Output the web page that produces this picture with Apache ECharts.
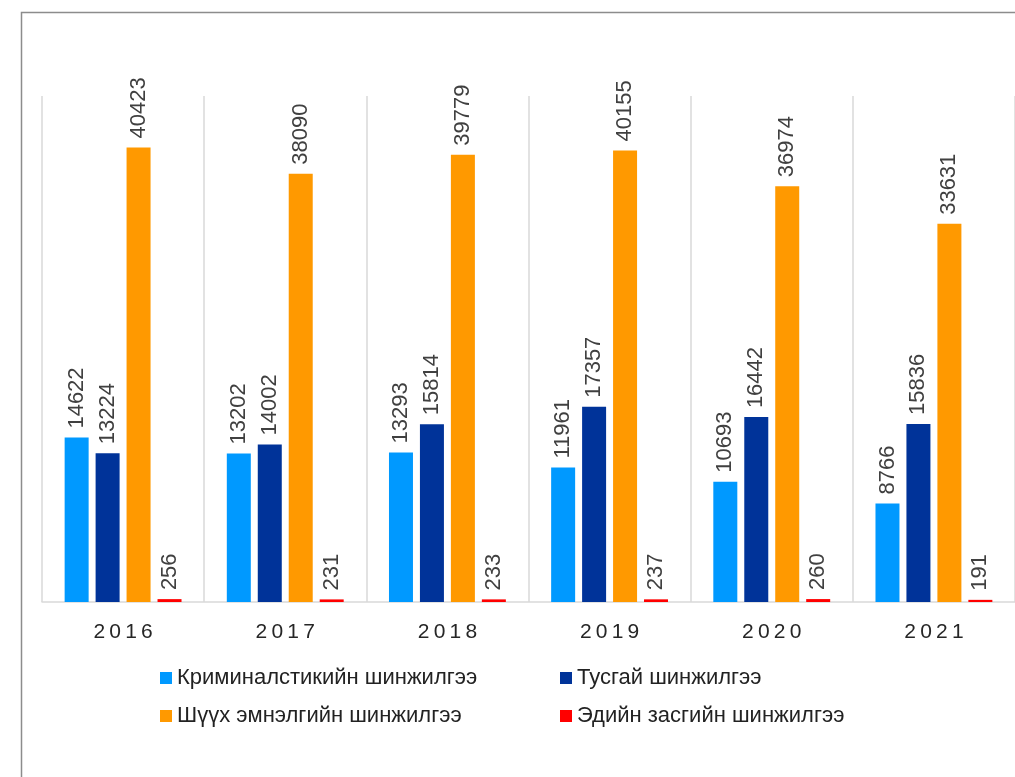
<!DOCTYPE html>
<html>
<head>
<meta charset="utf-8">
<script src="https://cdn.jsdelivr.net/npm/echarts@6/dist/echarts.min.js"></script>
<style>
  html, body { margin: 0; padding: 0; background: #fff; }
  #chart { width: 1015px; height: 777px; }
</style>
</head>
<body>
<div id="chart"></div>
<script>
// Years on the x axis
const years = ['2016', '2017', '2018', '2019', '2020', '2021'];

// Series names (legend)
const seriesNames = [
    'Криминалстикийн шинжилгээ',
    'Тусгай шинжилгээ',
    'Шүүх эмнэлгийн шинжилгээ',
    'Эдийн засгийн шинжилгээ'
];

// Values
const kriminalistik = [14622, 13202, 13293, 11961, 10693, 8766];
const tusgai = [13224, 14002, 15814, 17357, 16442, 15836];
const shuukhEmneleg = [40423, 38090, 39779, 40155, 36974, 33631];
const ediinZasag = [256, 231, 233, 237, 260, 191];

const colors = ['#0099ff', '#003399', '#ff9900', '#ff0000'];
const values = [kriminalistik, tusgai, shuukhEmneleg, ediinZasag];

const font = 'Liberation Sans, Arial, sans-serif';

const series = values.map((data, i) => ({
    type: 'bar',
    name: seriesNames[i],
    data: data,
    barWidth: 24,
    barGap: '29%',
    itemStyle: { color: colors[i] },
    label: {
        show: true,
        position: 'top',
        rotate: 90,
        align: 'left',
        verticalAlign: 'middle',
        distance: 9,
        fontFamily: font,
        fontSize: 22,
        color: '#404040'
    }
}));

const legendText = { fontFamily: font, fontSize: 22, color: '#222' };

const chart = echarts.init(document.getElementById('chart'));
chart.setOption({
    animation: false,
    backgroundColor: '#fff',
    // moldura cinza do quadro original
    graphic: [{
        type: 'polyline',
        shape: { points: [[21.5, 777], [21.5, 12.5], [1015, 12.5]] },
        style: { stroke: '#8c8c8c', lineWidth: 1.5, fill: null }
    }],
    legend: [
        {
            left: 155,
            top: 662,
            orient: 'vertical',
            itemWidth: 12,
            itemHeight: 12,
            itemGap: 16,
            icon: 'rect',
            data: [seriesNames[0], seriesNames[2]],
            textStyle: legendText
        },
        {
            left: 555,
            top: 662,
            orient: 'vertical',
            itemWidth: 12,
            itemHeight: 12,
            itemGap: 16,
            icon: 'rect',
            data: [seriesNames[1], seriesNames[3]],
            textStyle: legendText
        }
    ],
    grid: {
        left: 42,
        right: 0,
        top: 96,
        bottom: 175,
        containLabel: false
    },
    xAxis: {
        type: 'category',
        data: years,
        axisTick: { show: false },
        axisLine: { lineStyle: { color: '#d9d9d9', width: 1.5 } },
        splitLine: { show: true, lineStyle: { color: '#d9d9d9', width: 1.5 } },
        axisLabel: {
            margin: 20,
            fontFamily: font,
            fontSize: 21,
            color: '#262626',
            formatter: v => v.split('').join('\u2009')
        }
    },
    yAxis: {
        type: 'value',
        min: 0,
        max: 45000,
        show: false,
        splitLine: { show: false }
    },
    series
});
</script>
</body>
</html>
